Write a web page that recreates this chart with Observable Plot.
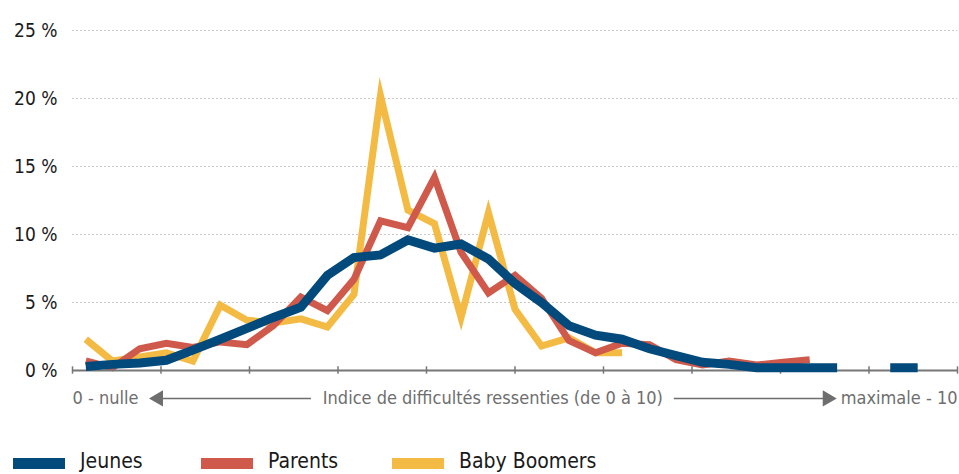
<!DOCTYPE html>
<html>
<head>
<meta charset="utf-8">
<script src="https://cdn.jsdelivr.net/npm/d3@7"></script>
<script src="https://cdn.jsdelivr.net/npm/@observablehq/plot@0.6"></script>
<style>
  html, body { margin: 0; padding: 0; background: #fff; }
  body { width: 959px; height: 474px; overflow: hidden; position: relative;
         font-family: "DejaVu Sans", sans-serif; font-stretch: condensed; }
  svg text { font-stretch: condensed; }
  #legend { position: absolute; left: 0; top: 445px; width: 959px; height: 29px; }
  .item { position: absolute; top: 0; height: 29px; }
  .sw { position: absolute; top: 13px; width: 52px; height: 11px; }
  .lab { position: absolute; top: 3px; font-size: 21px; color: #1a1a1a; white-space: nowrap; line-height: 26px; font-stretch: condensed; }
</style>
</head>
<body>
<div id="chart"></div>
<div id="legend"></div>
<script>
// Bin centres of the difficulty index (0 to 10), 33 bins
const bins = [0.15, 0.45, 0.76, 1.06, 1.36, 1.67, 1.97, 2.27, 2.58, 2.88, 3.18,
              3.48, 3.79, 4.09, 4.39, 4.70, 5.00, 5.30, 5.61, 5.91, 6.21, 6.52,
              6.82, 7.12, 7.42, 7.73, 8.03, 8.33, 8.64, 8.94, 9.24, 9.55, 9.85];

// Series values (%)
const jeunes = [0.3, 0.45, 0.55, 0.75, 1.5, 2.3, 3.1, 3.9, 4.65, 7.0, 8.3,
                8.5, 9.6, 9.0, 9.3, 8.2, 6.4, 5.0, 3.3, 2.6, 2.3, 1.6,
                1.1, 0.6, 0.45, 0.2, 0.2, 0.2, 0.2, null, 0.2, 0.2, null];
const parents = [0.7, 0.2, 1.6, 2.0, 1.7, 2.1, 1.9, 3.3, 5.4, 4.4, 6.7,
                 11.0, 10.5, 14.2, 8.7, 5.7, 7.0, 5.3, 2.2, 1.3, 2.0, 1.9,
                 0.8, 0.4, 0.7, 0.4, 0.6, 0.8, null, null, null, null, null];
const boomers = [2.3, 0.7, 1.0, 1.3, 0.7, 4.8, 3.7, 3.5, 3.8, 3.2, 5.6,
                 20.2, 11.8, 10.8, 3.9, 11.6, 4.5, 1.8, 2.4, 1.3, 1.3, null,
                 null, null, null, null, null, null, null, null, null, null, null];

const seriesNames = ["Jeunes", "Parents", "Baby Boomers"];
const seriesColors = ["#024a7b", "#cf5a4c", "#f3bb43"];
const seriesWidths = [9, 7, 7];

const yTicks = [0, 5, 10, 15, 20, 25];
const xTicks = [0, 1, 2, 3, 4, 5, 6, 7, 8, 9, 10];

const axisLabels = ["0 - nulle", "Indice de difficultés ressenties (de 0 à 10)", "maximale - 10"];

const toRows = (vals) => bins.map((b, i) => ({x: b, v: vals[i]}));

const font = '"DejaVu Sans", sans-serif';
const annY = -2.05;

const plot = Plot.plot({
  width: 959,
  height: 445,
  marginTop: 30,
  marginBottom: 75,
  marginLeft: 72,
  marginRight: 2,
  style: {fontFamily: font, background: "#fff", overflow: "visible"},
  x: {domain: [0, 10], axis: null},
  y: {domain: [0, 25], axis: null},
  marks: [
    Plot.ruleY(yTicks.filter(d => d > 0), {stroke: "#c8c8c8", strokeWidth: 1, strokeDasharray: "2,2"}),
    Plot.axisY(yTicks, {tickSize: 0, tickPadding: 15, tickFormat: d => `${d} %`, fontSize: 19, fill: "#1a1a1a", label: null}),
    Plot.line(toRows(boomers), {x: "x", y: "v", stroke: seriesColors[2], strokeWidth: seriesWidths[2], strokeLinejoin: "miter", strokeMiterlimit: 10, strokeLinecap: "butt"}),
    Plot.line(toRows(parents), {x: "x", y: "v", stroke: seriesColors[1], strokeWidth: seriesWidths[1], strokeLinejoin: "miter", strokeMiterlimit: 10, strokeLinecap: "butt"}),
    Plot.ruleY([0], {stroke: "#777", strokeWidth: 2}),
    Plot.ruleX(xTicks, {y1: -0.27, y2: 0.27, stroke: "#777", strokeWidth: 1.5}),
    Plot.line(toRows(jeunes), {x: "x", y: "v", stroke: seriesColors[0], strokeWidth: seriesWidths[0], strokeLinejoin: "miter", strokeMiterlimit: 10, strokeLinecap: "butt"}),
    // bottom annotation
    Plot.text([axisLabels[0]], {x: 0, y: annY, text: d => d, textAnchor: "start", fontSize: 18, fill: "#6e6e6e"}),
    Plot.text([axisLabels[1]], {x: 4.75, y: annY, text: d => d, textAnchor: "middle", fontSize: 18, fill: "#6e6e6e"}),
    Plot.text([axisLabels[2]], {x: 10, y: annY, text: d => d, textAnchor: "end", fontSize: 18, fill: "#6e6e6e"}),
    Plot.ruleY([annY], {x1: 1.0, x2: 2.7, stroke: "#6e6e6e", strokeWidth: 1.5}),
    Plot.ruleY([annY], {x1: 6.8, x2: 8.5, stroke: "#6e6e6e", strokeWidth: 1.5}),
    Plot.dot([0.97], {x: d => d, y: annY, symbol: "triangle", rotate: -90, r: 6, fill: "#6e6e6e", stroke: null}),
    Plot.dot([8.53], {x: d => d, y: annY, symbol: "triangle", rotate: 90, r: 6, fill: "#6e6e6e", stroke: null})
  ]
});
document.getElementById("chart").appendChild(plot);

// legend
const legendLefts = [13, 201, 392];
const legend = document.getElementById("legend");
seriesNames.forEach((name, i) => {
  const item = document.createElement("div");
  item.className = "item";
  item.style.left = legendLefts[i] + "px";
  const sw = document.createElement("div");
  sw.className = "sw";
  sw.style.left = "0px";
  sw.style.background = seriesColors[i];
  const lab = document.createElement("div");
  lab.className = "lab";
  lab.style.left = "67px";
  lab.textContent = name;
  item.appendChild(sw);
  item.appendChild(lab);
  legend.appendChild(item);
});
</script>
</body>
</html>
